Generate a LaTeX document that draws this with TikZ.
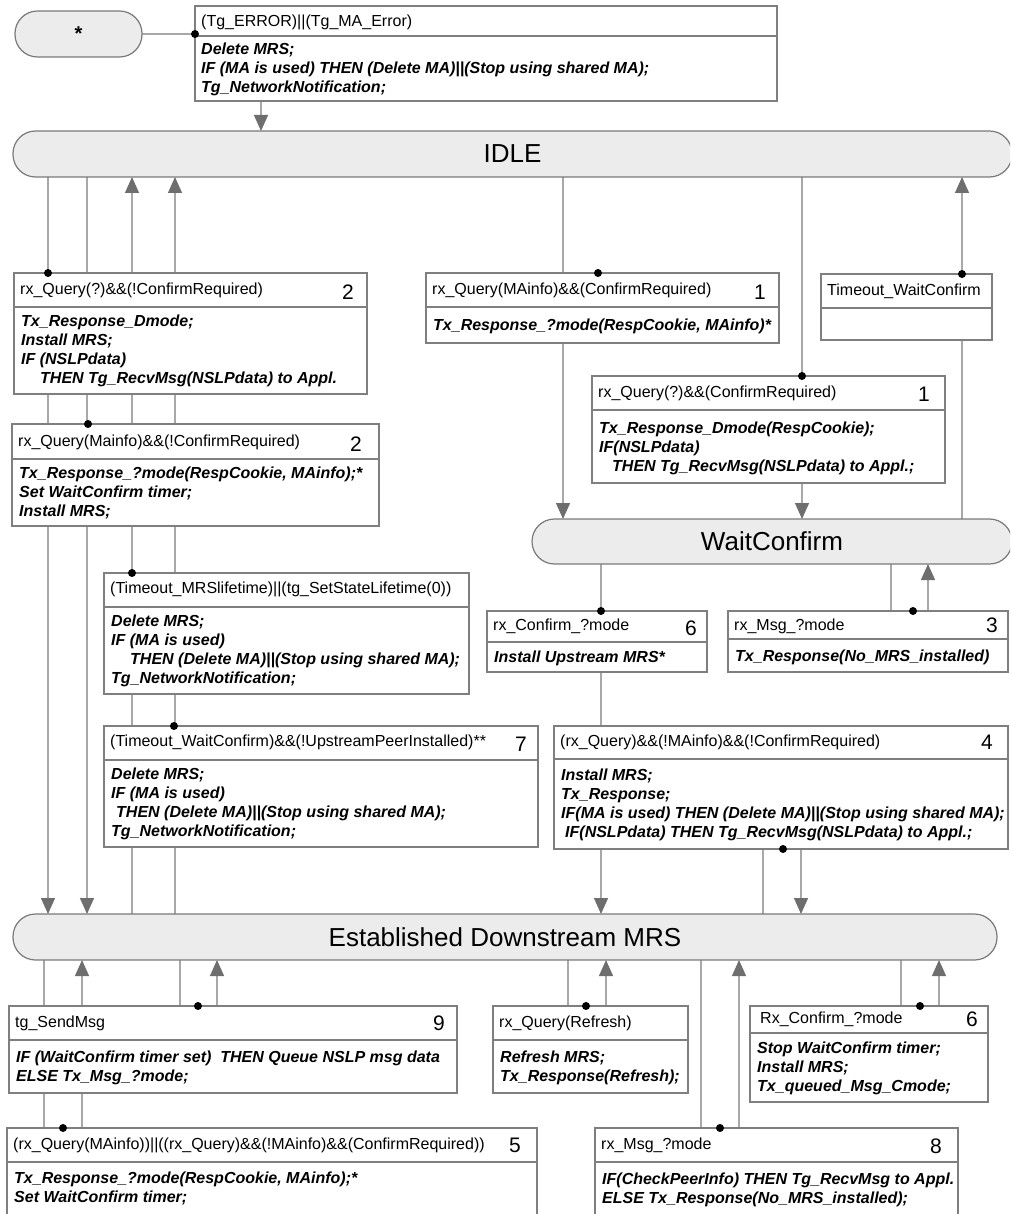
\documentclass[tikz,border=0pt]{standalone}
\usepackage{fontspec}
\setmainfont{Liberation Sans}
\usetikzlibrary{arrows.meta}
\pgfdeclarelayer{bg}
\pgfsetlayers{bg,main}
\definecolor{stfill}{HTML}{ECECEC}
\definecolor{stdraw}{HTML}{7A7A7A}
\definecolor{bxdraw}{HTML}{7F7F7F}
\definecolor{lnc}{HTML}{A8A8A8}
\definecolor{arc}{HTML}{6E6E6E}
\tikzset{
  stnode/.style={draw=stdraw, fill=stfill, line width=1.2pt, rounded corners=22.5pt, inner sep=0pt, outer sep=0pt, font=\fontsize{26}{30}\selectfont},
  tbx/.style={draw=bxdraw, fill=white, line width=1.3pt, inner sep=0pt, outer sep=0pt, anchor=north west},
  tdiv/.style={draw=bxdraw, line width=1.3pt},
  hdr/.style={inner sep=0pt, anchor=west, font=\fontsize{16}{19}\selectfont, text height=12pt, text depth=3.5pt},
  bdy/.style={inner sep=0pt, anchor=north west, align=left, font=\fontsize{16}{19}\selectfont\bfseries\itshape},
  numl/.style={inner sep=0pt, font=\fontsize{21}{24}\selectfont},
  conn/.style={draw=lnc, line width=1.3pt},
  arr/.style={conn, -{Triangle[width=14pt,length=16pt,color=arc]}},
  jdot/.style={fill=black},
}
\newcommand\tbox[6]{%
  \node[tbx, minimum width={(#4-#2)*1pt}, minimum height={(#6-#3)*1pt}] (#1) at (#2,#3) {};
  \draw[tdiv] (#1.west |- 0,#5) -- (#1.east |- 0,#5);}
\begin{document}
\begin{tikzpicture}[x=1pt,y=-1pt]
\useasboundingbox (0,0) rectangle (1010,1214);
\clip (0,0) rectangle (1010,1214);

% ---------- states
\node[stnode, minimum width=127pt, minimum height=46pt, font=\fontsize{20}{24}\selectfont\bfseries] (star) at (78.5,34) {*};
\node[stnode, minimum width=999pt, minimum height=46pt] (idle) at (512.5,154) {IDLE};
\node[stnode, minimum width=480pt, minimum height=45pt] (wait) at (772,541.5) {WaitConfirm};
\node[stnode, minimum width=984pt, minimum height=46pt] (est) at (505,937) {Established Downstream MRS};

% ---------- transition boxes
\tbox{err}{195}{6}{777}{36}{101}
\node[hdr] (errh) at (201,22) {(Tg\_ERROR)||(Tg\_MA\_Error)};
\node[bdy] (errb) at (201,43) {Delete MRS;\\IF (MA is used) THEN (Delete MA)||(Stop using shared MA);\\Tg\_NetworkNotification;};

\tbox{A}{14}{273}{367}{307}{394}
\node[hdr] (Ah) at (20,290) {rx\_Query(?)\&\&(!ConfirmRequired)};
\node[numl] (An) at (348,292) {2};
\node[bdy] (Ab) at (21,315) {Tx\_Response\_Dmode;\\Install MRS;\\IF (NSLPdata)\\\hspace*{19pt}THEN Tg\_RecvMsg(NSLPdata) to Appl.};

\tbox{B}{12}{424}{379}{459}{526}
\node[hdr] (Bh) at (18,442) {rx\_Query(Mainfo)\&\&(!ConfirmRequired)};
\node[numl] (Bn) at (356,444) {2};
\node[bdy] (Bb) at (19,467) {Tx\_Response\_?mode(RespCookie, MAinfo);*\\Set WaitConfirm timer;\\Install MRS;};

\tbox{C}{104}{573}{469}{607}{694}
\node[hdr] (Ch) at (110,589) {(Timeout\_MRSlifetime)||(tg\_SetStateLifetime(0))};
\node[bdy] (Cb) at (111,615) {Delete MRS;\\IF (MA is used)\\\hspace*{19pt}THEN (Delete MA)||(Stop using shared MA);\\Tg\_NetworkNotification;};

\tbox{D}{104}{726}{538}{760}{847}
\node[hdr] (Dh) at (110,742) {(Timeout\_WaitConfirm)\&\&(!UpstreamPeerInstalled)**};
\node[numl] (Dn) at (521,744) {7};
\node[bdy] (Db) at (111,768) {Delete MRS;\\IF (MA is used)\\\hspace*{5pt}THEN (Delete MA)||(Stop using shared MA);\\Tg\_NetworkNotification;};

\tbox{E}{426}{273}{779}{307}{343}
\node[hdr] (Eh) at (432,290) {rx\_Query(MAinfo)\&\&(ConfirmRequired)};
\node[numl] (En) at (760,292) {1};
\node[bdy] (Eb) at (433,319) {Tx\_Response\_?mode(RespCookie, MAinfo)*};

\tbox{G}{821}{274}{992}{308}{340}
\node[hdr] (Gh) at (827,291) {Timeout\_WaitConfirm};

\tbox{F}{592}{376}{945}{410}{483}
\node[hdr] (Fh) at (598,393) {rx\_Query(?)\&\&(ConfirmRequired)};
\node[numl] (Fn) at (924,394) {1};
\node[bdy] (Fb) at (599,422) {Tx\_Response\_Dmode(RespCookie);\\IF(NSLPdata)\\\hspace*{13pt}THEN Tg\_RecvMsg(NSLPdata) to Appl.;};

\tbox{H}{487}{611}{707}{642}{672}
\node[hdr] (Hh) at (493,626) {rx\_Confirm\_?mode};
\node[numl] (Hn) at (691,628) {6};
\node[bdy] (Hb) at (494,651) {Install Upstream MRS*};

\tbox{J}{728}{611}{1008}{639}{672}
\node[hdr] (Jh) at (734,626) {rx\_Msg\_?mode};
\node[numl] (Jn) at (992,625) {3};
\node[bdy] (Jb) at (735,650) {Tx\_Response(No\_MRS\_installed)};

\tbox{I}{554}{726}{1008}{759}{849}
\node[hdr] (Ih) at (560,742) {(rx\_Query)\&\&(!MAinfo)\&\&(!ConfirmRequired)};
\node[numl] (In) at (987,742) {4};
\node[bdy] (Ib) at (561,769) {Install MRS;\\Tx\_Response;\\IF(MA is used) THEN (Delete MA)||(Stop using shared MA);\\\hspace*{4pt}IF(NSLPdata) THEN Tg\_RecvMsg(NSLPdata) to Appl.;};

\tbox{K}{9}{1006}{457}{1040}{1093}
\node[hdr] (Kh) at (15,1023) {tg\_SendMsg};
\node[numl] (Kn) at (439,1023) {9};
\node[bdy] (Kb) at (16,1051) {IF (WaitConfirm timer set)\ \ THEN Queue NSLP msg data\\ELSE Tx\_Msg\_?mode;};

\tbox{L}{7}{1128}{537}{1162}{1240}
\node[hdr] (Lh) at (13,1145) {(rx\_Query(MAinfo))||((rx\_Query)\&\&(!MAinfo)\&\&(ConfirmRequired))};
\node[numl] (Ln) at (515,1145) {5};
\node[bdy] (Lb) at (14,1172) {Tx\_Response\_?mode(RespCookie, MAinfo);*\\Set WaitConfirm timer;};

\tbox{M}{493}{1006}{688}{1040}{1093}
\node[hdr] (Mh) at (499,1023) {rx\_Query(Refresh)};
\node[bdy] (Mb) at (500,1051) {Refresh MRS;\\Tx\_Response(Refresh);};

\tbox{N}{750}{1006}{988}{1033}{1102}
\node[hdr] (Nh) at (760,1019) {Rx\_Confirm\_?mode};
\node[numl] (Nn) at (972,1019) {6};
\node[bdy] (Nb) at (757,1042) {Stop WaitConfirm timer;\\Install MRS;\\Tx\_queued\_Msg\_Cmode;};

\tbox{O}{595}{1128}{958}{1162}{1240}
\node[hdr] (Oh) at (601,1145) {rx\_Msg\_?mode};
\node[numl] (On) at (936,1146) {8};
\node[bdy] (Ob) at (602,1173) {IF(CheckPeerInfo) THEN Tg\_RecvMsg to Appl.\\ELSE Tx\_Response(No\_MRS\_installed);};

% ---------- connectors (behind boxes)
\begin{pgfonlayer}{bg}
\draw[conn] (star.east) -- (err.west |- star.east);
\draw[arr] (err.south -| 261,0) -- (idle.north -| 261,0);
\draw[arr] (idle.south -| 48,0) -- (est.north -| 48,0);
\draw[arr] (idle.south -| 87,0) -- (est.north -| 87,0);
\draw[arr] (est.north -| 132,0) -- (idle.south -| 132,0);
\draw[arr] (est.north -| 175,0) -- (idle.south -| 175,0);
\draw[arr] (idle.south -| 563,0) -- (wait.north -| 563,0);
\draw[arr] (idle.south -| 802,0) -- (wait.north -| 802,0);
\draw[arr] (wait.north -| 962,0) -- (idle.south -| 962,0);
\draw[arr] (wait.south -| 601,0) -- (est.north -| 601,0);
\draw[conn] (wait.south -| 891,0) -- (J.north -| 891,0);
\draw[arr] (J.north -| 928,0) -- (wait.south -| 928,0);
\draw[conn] (I.south -| 763,0) -- (est.north -| 763,0);
\draw[arr] (I.south -| 801,0) -- (est.north -| 801,0);
\draw[conn] (est.south -| 44,0) -- (L.north -| 44,0);
\draw[arr] (L.north -| 82,0) -- (est.south -| 82,0);
\draw[conn] (est.south -| 180,0) -- (K.north -| 180,0);
\draw[arr] (K.north -| 217,0) -- (est.south -| 217,0);
\draw[conn] (est.south -| 568,0) -- (M.north -| 568,0);
\draw[arr] (M.north -| 606,0) -- (est.south -| 606,0);
\draw[conn] (est.south -| 701,0) -- (O.north -| 701,0);
\draw[arr] (O.north -| 739,0) -- (est.south -| 739,0);
\draw[conn] (est.south -| 901,0) -- (N.north -| 901,0);
\draw[arr] (N.north -| 939,0) -- (est.south -| 939,0);
\end{pgfonlayer}

% ---------- junction dots
\fill[jdot] (err.west |- star.east) circle (4);
\fill[jdot] (A.north -| 48,0) circle (4);
\fill[jdot] (B.north -| 88,0) circle (4);
\fill[jdot] (C.north -| 132,0) circle (4);
\fill[jdot] (D.north -| 174,0) circle (4);
\fill[jdot] (E.north -| 598,0) circle (4);
\fill[jdot] (F.north -| 802,0) circle (4);
\fill[jdot] (G.north -| 962,0) circle (4);
\fill[jdot] (H.north -| 601,0) circle (4);
\fill[jdot] (J.north -| 913,0) circle (4);
\fill[jdot] (I.south -| 783,0) circle (4);
\fill[jdot] (K.north -| 198,0) circle (4);
\fill[jdot] (L.north -| 63,0) circle (4);
\fill[jdot] (M.north -| 586,0) circle (4);
\fill[jdot] (N.north -| 920,0) circle (4);
\fill[jdot] (O.north -| 720,0) circle (4);
\end{tikzpicture}
\end{document}
